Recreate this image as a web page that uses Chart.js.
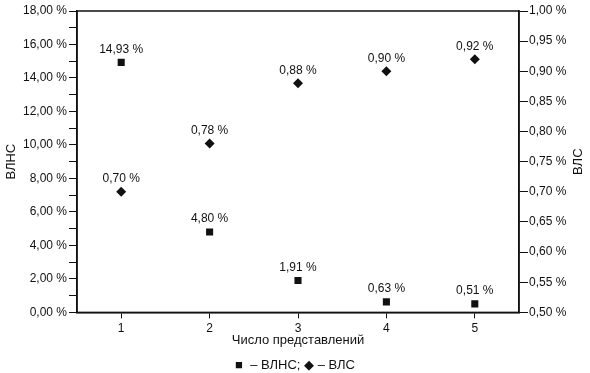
<!DOCTYPE html>
<html>
<head>
<meta charset="utf-8">
<script src="https://cdn.jsdelivr.net/npm/chart.js@4/dist/chart.umd.min.js"></script>
<style>
  html, body { margin: 0; padding: 0; background: #fff; }
  #wrap { width: 590px; height: 373px; }
</style>
</head>
<body>
<div id="wrap"><canvas id="chart" width="590" height="373"></canvas></div>
<script>
// values
const categories = ['1', '2', '3', '4', '5'];
const vlnsValues = [14.93, 4.80, 1.91, 0.63, 0.51];
const vlsValues = [0.70, 0.78, 0.88, 0.90, 0.92];
const leftTitle = 'ВЛНС';
const rightTitle = 'ВЛС';
const xTitle = 'Число представлений';
const legendText = '■  – ВЛНС; ◆ – ВЛС';

const FONT = 'Liberation Sans, Arial, sans-serif';
const INK = '#111';

function pct(v) {
    return v.toFixed(2).replace('.', ',') + ' %';
}

// value labels above the markers + frame + right title read bottom-to-top
const extras = {
    id: 'extras',
    afterDatasetsDraw(chart) {
        const ctx = chart.ctx;
        const a = chart.chartArea;
        ctx.save();
        ctx.strokeStyle = INK;
        ctx.lineWidth = 1.5;
        ctx.strokeRect(a.left, a.top, a.right - a.left, a.bottom - a.top);

        ctx.fillStyle = INK;
        ctx.font = '12px ' + FONT;
        ctx.textAlign = 'center';
        ctx.textBaseline = 'bottom';
        chart.data.datasets.forEach((ds, i) => {
            chart.getDatasetMeta(i).data.forEach((pt, j) => {
                ctx.fillText(pct(ds.data[j]), pt.x, pt.y - 7);
            });
        });

        const r = chart.scales.y1;
        ctx.font = '13px ' + FONT;
        ctx.translate(r.right - 12, (a.top + a.bottom) / 2);
        ctx.rotate(-Math.PI / 2);
        ctx.textBaseline = 'middle';
        ctx.fillText(rightTitle, 0, 0);
        ctx.restore();
    }
};

new Chart(document.getElementById('chart'), {
    type: 'line',
    data: {
        labels: categories,
        datasets: [
            {
                label: 'ВЛНС',
                data: vlnsValues,
                yAxisID: 'y',
                showLine: false,
                pointStyle: 'rect',
                pointRadius: 5,
                pointBackgroundColor: INK,
                pointBorderColor: INK,
                pointBorderWidth: 0
            },
            {
                label: 'ВЛС',
                data: vlsValues,
                yAxisID: 'y1',
                showLine: false,
                pointStyle: 'rectRot',
                pointRadius: 5,
                pointBackgroundColor: INK,
                pointBorderColor: INK,
                pointBorderWidth: 0
            }
        ]
    },
    options: {
        responsive: false,
        animation: false,
        layout: { padding: { top: 11, left: 0, right: 0, bottom: 0 } },
        plugins: {
            legend: { display: false },
            tooltip: { enabled: false },
            subtitle: {
                display: true,
                position: 'bottom',
                text: legendText,
                color: INK,
                font: { family: FONT, size: 13 },
                padding: { top: 1, bottom: 0 }
            }
        },
        scales: {
            x: {
                type: 'category',
                offset: true,
                grid: { drawOnChartArea: false, drawTicks: true, tickLength: 6, color: INK, lineWidth: 1 },
                border: { display: true, color: INK, width: 1.5 },
                ticks: { color: INK, font: { family: FONT, size: 12 }, padding: 3 },
                title: { display: true, text: xTitle, color: INK, font: { family: FONT, size: 13 }, padding: { top: 0, bottom: 8 } },
                afterFit(s) { s.height = 44; }
            },
            y: {
                position: 'left',
                min: 0,
                max: 18,
                grid: { drawOnChartArea: false, drawTicks: true, tickLength: 8, color: INK, lineWidth: 1 },
                border: { display: true, color: INK, width: 1.5 },
                ticks: {
                    stepSize: 1,
                    autoSkip: false,
                    color: INK,
                    padding: 2,
                    font: { family: FONT, size: 12 },
                    callback: v => (Math.round(v) % 2 === 0 ? pct(v) : '')
                },
                title: { display: true, text: leftTitle, color: INK, font: { family: FONT, size: 13 }, padding: { top: 4, bottom: 0 } },
                afterFit(s) { s.width = 77; }
            },
            y1: {
                position: 'right',
                min: 0.5,
                max: 1.0,
                grid: { drawOnChartArea: false, drawTicks: true, tickLength: 9, color: INK, lineWidth: 1 },
                border: { display: true, color: INK, width: 1.5 },
                ticks: {
                    stepSize: 0.05,
                    autoSkip: false,
                    color: INK,
                    padding: 1,
                    font: { family: FONT, size: 12 },
                    callback: v => pct(v)
                },
                afterFit(s) { s.width = 71; }
            }
        }
    },
    plugins: [extras]
});
</script>
</body>
</html>
